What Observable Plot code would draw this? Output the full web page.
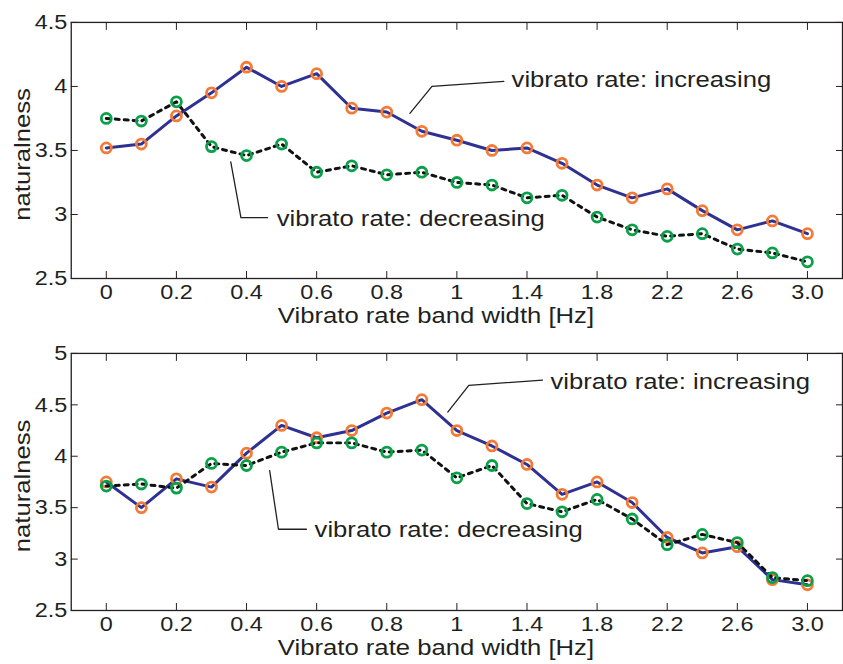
<!DOCTYPE html>
<html>
<head>
<meta charset="utf-8">
<script src="https://cdn.jsdelivr.net/npm/d3@7"></script>
<script src="https://cdn.jsdelivr.net/npm/@observablehq/plot@0.6"></script>
<style>
  html, body { margin: 0; padding: 0; background: #fff; overflow: hidden; }
  #chart { width: 843px; height: 664px; overflow: hidden; }
  #chart svg { display: block; }
</style>
</head>
<body>
<div id="chart"></div>
<script>
// Vibrato rate band widths (Hz); points are spaced evenly by index along the axis
const bandWidth = [0, 0.1, 0.2, 0.3, 0.4, 0.5, 0.6, 0.7, 0.8, 0.9, 1.0,
                   1.2, 1.4, 1.6, 1.8, 2.0, 2.2, 2.4, 2.6, 2.8, 3.0];
const labelledBands = [0, 0.2, 0.4, 0.6, 0.8, 1.0, 1.4, 1.8, 2.2, 2.6, 3.0];
const bandLabels = ["0", "0.2", "0.4", "0.6", "0.8", "1", "1.4", "1.8", "2.2", "2.6", "3.0"];

// Naturalness scores, upper panel
const upperIncreasing = [3.52, 3.55, 3.77, 3.95, 4.15, 4.00, 4.10, 3.83, 3.80, 3.65, 3.58,
                         3.50, 3.52, 3.40, 3.23, 3.13, 3.20, 3.03, 2.88, 2.95, 2.85];
const upperDecreasing = [3.75, 3.73, 3.88, 3.53, 3.46, 3.55, 3.33, 3.38, 3.31, 3.33, 3.25,
                         3.23, 3.13, 3.15, 2.98, 2.88, 2.83, 2.85, 2.73, 2.70, 2.63];

// Naturalness scores, lower panel
const lowerIncreasing = [3.75, 3.50, 3.78, 3.70, 4.03, 4.30, 4.18, 4.25, 4.42, 4.55, 4.25,
                         4.10, 3.92, 3.63, 3.75, 3.55, 3.21, 3.06, 3.12, 2.80, 2.75];
const lowerDecreasing = [3.71, 3.73, 3.69, 3.93, 3.91, 4.04, 4.13, 4.13, 4.04, 4.06, 3.79,
                         3.91, 3.54, 3.46, 3.58, 3.39, 3.14, 3.24, 3.16, 2.82, 2.79];

const seriesNames = ["vibrato rate: increasing", "vibrato rate: decreasing"];

const ink = "#231f20";
const blue = "#2e3192";
const orange = "#f37b35";
const green = "#0aa04a";
const fontFamily = "'Liberation Sans', Arial, Helvetica, sans-serif";
const widen = 1.12; // the lettering is a wide grotesque

const tickIndex = labelledBands.map(v => bandWidth.findIndex(b => Math.abs(b - v) < 1e-9));
const labelAt = new Map(tickIndex.map((k, j) => [k, bandLabels[j]]));

function panel({increasing, decreasing, yDomain, yTicks, height, marginTop, marginBottom, notes}) {
  const rows = bandWidth.map((b, i) => ({i, b, inc: increasing[i], dec: decreasing[i]}));
  const notePts = notes.map(n => ({x: n.text[0], y: n.text[1], label: n.label}));
  const leaders = notes.flatMap((n, k) => n.leader.map(([x, y]) => ({x, y, k})));

  const svg = Plot.plot({
    width: 846,
    height,
    marginLeft: 71,
    marginRight: 1,
    marginTop,
    marginBottom,
    style: {fontFamily, color: ink, background: "#fff"},
    x: {domain: [-1, 21], axis: null},
    y: {domain: yDomain, axis: null},
    marks: [
      // inward ticks on all four sides
      Plot.axisX(tickIndex, {anchor: "bottom", tickSize: -7, tickFormat: () => "", stroke: ink, label: null}),
      Plot.axisX(tickIndex, {anchor: "top", tickSize: -7, tickFormat: () => "", stroke: ink, label: null}),
      Plot.axisY(yTicks, {anchor: "left", tickSize: -7, tickFormat: () => "", stroke: ink, label: null}),
      Plot.axisY(yTicks, {anchor: "right", tickSize: -7, tickFormat: () => "", stroke: ink, label: null}),
      // tick labels
      Plot.axisX(tickIndex, {anchor: "bottom", tickSize: 0, tickPadding: 6, tickFormat: i => labelAt.get(i),
                             fontSize: 21, fill: ink, label: null}),
      Plot.axisY(yTicks, {anchor: "left", tickSize: 0, tickPadding: 4, tickFormat: d => `${d}`,
                          fontSize: 21, fill: ink, label: null}),
      Plot.frame({stroke: ink, strokeWidth: 1.3}),
      // axis titles
      Plot.text(["naturalness"], {frameAnchor: "left", rotate: -90, dx: -49, dy: 4, text: d => d,
                                  fontSize: 23, fill: ink, textAnchor: "middle", lineAnchor: "middle"}),
      Plot.text(["Vibrato rate band width [Hz]"], {frameAnchor: "bottom", dx: -21, dy: 37, text: d => d,
                                  fontSize: 23, fill: ink, textAnchor: "middle", lineAnchor: "middle"}),
      // series
      Plot.line(rows, {x: "i", y: "inc", stroke: blue, strokeWidth: 3}),
      Plot.dot(rows, {x: "i", y: "inc", r: 5, stroke: orange, strokeWidth: 2.8, fill: "none"}),
      Plot.line(rows, {x: "i", y: "dec", stroke: "#111", strokeWidth: 3, strokeDasharray: "4,5"}),
      Plot.dot(rows, {x: "i", y: "dec", r: 5, stroke: green, strokeWidth: 2.8, fill: "none"}),
      // callouts
      Plot.line(leaders, {x: "x", y: "y", z: "k", stroke: ink, strokeWidth: 1.3}),
      Plot.text(notePts, {x: "x", y: "y", text: "label", textAnchor: "start", lineAnchor: "middle",
                          fontSize: 23, fill: ink})
    ]
  });

  // stretch lettering horizontally around each label's anchor
  for (const t of svg.querySelectorAll("text")) {
    const tr = t.getAttribute("transform") || "";
    t.setAttribute("transform", `${tr} scale(${widen},1)`);
  }
  return svg;
}

const chart = document.getElementById("chart");

chart.append(panel({
  increasing: upperIncreasing,
  decreasing: upperDecreasing,
  yDomain: [2.5, 4.5],
  yTicks: [2.5, 3, 3.5, 4, 4.5],
  height: 330,
  marginTop: 22,
  marginBottom: 51,
  notes: [
    {label: seriesNames[0], text: [11.56, 4.05], leader: [[11.34, 4.04], [9.29, 4.0], [8.66, 3.79]]},
    {label: seriesNames[1], text: [4.86, 2.97], leader: [[4.6, 2.975], [3.84, 2.975], [3.55, 3.41]]}
  ]
}));

chart.append(panel({
  increasing: lowerIncreasing,
  decreasing: lowerDecreasing,
  yDomain: [2.5, 5],
  yTicks: [2.5, 3, 3.5, 4, 4.5, 5],
  height: 334,
  marginTop: 24,
  marginBottom: 52,
  notes: [
    {label: seriesNames[0], text: [12.67, 4.73], leader: [[12.44, 4.74], [10.34, 4.69], [9.74, 4.43]]},
    {label: seriesNames[1], text: [5.94, 3.29], leader: [[5.71, 3.29], [4.91, 3.29], [4.66, 3.86]]}
  ]
}));
</script>
</body>
</html>
